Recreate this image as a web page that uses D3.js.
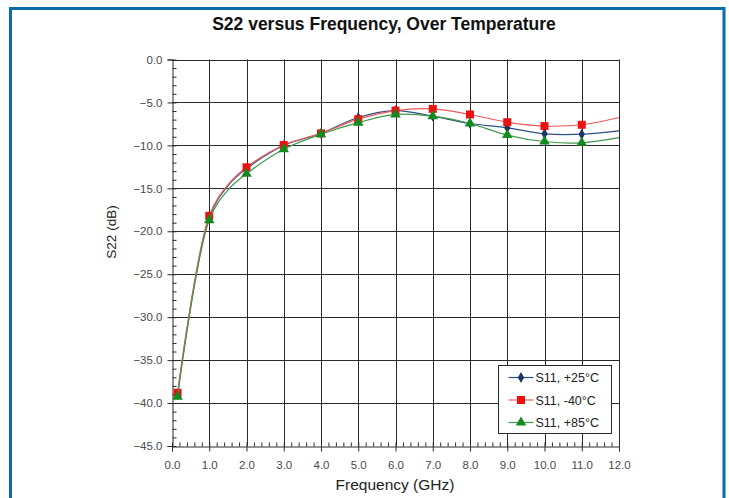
<!DOCTYPE html>
<html>
<head>
<meta charset="utf-8">
<script src="https://cdn.jsdelivr.net/npm/d3@7"></script>
<style>
	body { margin: 0; background: #fff; }
	svg text { font-family: "Liberation Sans", Arial, sans-serif; }
</style>
</head>
<body>
<svg id="chart" width="729" height="498"></svg>
<script>
// data
const freqs = [0.15, 1, 1.5, 2, 3, 4, 5, 6, 7, 8, 9, 10, 11, 12];
const markerFreqs = [0.15, 1, 2, 3, 4, 5, 6, 7, 8, 9, 10, 11];
const s25 = [-39.0, -18.4, -14.7, -12.7, -10.0, -8.6, -6.75, -5.95, -6.6, -7.45, -7.95, -8.65, -8.7, -8.3];
const sM40 = [-38.8, -18.2, -14.6, -12.55, -9.95, -8.6, -6.95, -5.95, -5.75, -6.4, -7.3, -7.75, -7.6, -6.75];
const s85 = [-39.25, -18.7, -15.2, -13.3, -10.45, -8.7, -7.35, -6.4, -6.6, -7.45, -8.8, -9.55, -9.7, -9.1];
const seriesNames = ["S11, +25°C", "S11, -40°C", "S11, +85°C"];
const xTicks = d3.range(0, 12.01, 1);
const yTicks = d3.range(-45, 0.01, 5);

(function(d3){
	const svg = d3.select("#chart");
	const x = d3.scaleLinear().domain([0, 12]).range([172, 619]);
	const y = d3.scaleLinear().domain([-45, 0]).range([446, 59.5]);

	// blue outer frame (open at the bottom)
	svg.append("path")
		.attr("d", "M10.5,498 V8.5 H724 V498")
		.attr("fill", "none")
		.attr("stroke", "#0a6cad")
		.attr("stroke-width", 3);

	svg.append("text")
		.attr("x", 384).attr("y", 30)
		.attr("text-anchor", "middle")
		.attr("font-size", "17.5px")
		.attr("font-weight", "bold")
		.attr("fill", "#111")
		.text("S22 versus Frequency, Over Temperature");

	// grid
	const grid = svg.append("g").attr("stroke", "#2a2a2a").attr("stroke-width", 1);
	grid.selectAll(".vx").data(xTicks.filter(d => d > 0)).enter().append("line")
		.attr("x1", d => Math.round(x(d)) + 0.5).attr("x2", d => Math.round(x(d)) + 0.5)
		.attr("y1", y(0)).attr("y2", y(-45));
	grid.selectAll(".hy").data(yTicks.filter(d => d > -45)).enter().append("line")
		.attr("y1", d => Math.round(y(d)) + 0.5).attr("y2", d => Math.round(y(d)) + 0.5)
		.attr("x1", x(0)).attr("x2", x(12));

	// axes
	const xAxis = svg.append("g")
		.attr("transform", `translate(0,${Math.round(y(-45)) + 0.5})`)
		.call(d3.axisBottom(x).tickValues(xTicks).tickFormat(d3.format(".1f")).tickSize(5).tickPadding(9));
	xAxis.append("g")
		.call(d3.axisTop(x).tickValues(d3.range(0, 12.01, 0.2)).tickFormat("").tickSize(4))
		.select(".domain").remove();

	const yAxis = svg.append("g")
		.attr("transform", `translate(${Math.round(x(0)) + 0.5},0)`)
		.call(d3.axisLeft(y).tickValues(yTicks).tickFormat(d3.format(".1f")).tickSize(5).tickPadding(5));
	yAxis.append("g")
		.call(d3.axisRight(y).tickValues(d3.range(-45, 0.01, 1)).tickFormat("").tickSize(4))
		.select(".domain").remove();

	svg.selectAll(".domain").attr("stroke", "#2a2a2a");
	svg.selectAll(".tick line").attr("stroke", "#2a2a2a");
	[xAxis, yAxis].forEach(a => a.selectAll("text")
		.attr("font-family", "Liberation Sans, Arial, sans-serif")
		.attr("font-size", "11.5px")
		.attr("fill", "#4a4a4a"));

	svg.append("text")
		.attr("x", 395).attr("y", 490)
		.attr("text-anchor", "middle")
		.attr("font-size", "15.5px")
		.attr("fill", "#222")
		.text("Frequency (GHz)");
	svg.append("text")
		.attr("transform", "translate(116,232) rotate(-90)")
		.attr("text-anchor", "middle")
		.attr("font-size", "13.5px")
		.attr("fill", "#222")
		.text("S22 (dB)");

	const series = [
		{name: seriesNames[0], vals: s25, line: "#2f4f86", fill: "#1b3566", shape: d3.symbolDiamond, size: 34},
		{name: seriesNames[1], vals: sM40, line: "#f25a5a", fill: "#ee1111", shape: d3.symbolSquare, size: 64},
		{name: seriesNames[2], vals: s85, line: "#3d9a4a", fill: "#128a1e", shape: d3.symbolTriangle, size: 48}
	];

	const line = d3.line()
		.x((d, i) => x(freqs[i]))
		.y(d => y(d))
		.curve(d3.curveCatmullRom.alpha(0.5));

	series.forEach(s => {
		const g = svg.append("g");
		g.append("path")
			.attr("d", line(s.vals))
			.attr("fill", "none")
			.attr("stroke", s.line)
			.attr("stroke-width", 1.2);
		const pts = freqs.map((f, i) => ({f: f, v: s.vals[i]})).filter(p => markerFreqs.includes(p.f));
		g.selectAll("path.m").data(pts).enter().append("path")
			.attr("class", "m")
			.attr("d", d3.symbol().type(s.shape).size(s.size))
			.attr("transform", d => `translate(${x(d.f)},${y(d.v)})`)
			.attr("fill", s.fill);
	});

	// legend
	const lg = svg.append("g").attr("transform", "translate(498.5,365.5)");
	lg.append("rect").attr("width", 113).attr("height", 68)
		.attr("fill", "#fff").attr("stroke", "#2a2a2a");
	series.forEach((s, i) => {
		const row = lg.append("g").attr("transform", `translate(0,${12 + i * 22.5})`);
		row.append("line").attr("x1", 10).attr("x2", 35).attr("stroke", s.line).attr("stroke-width", 1.2);
		row.append("path").attr("d", d3.symbol().type(s.shape).size(s.size))
			.attr("transform", "translate(22.5,0)").attr("fill", s.fill);
		row.append("text").attr("x", 37).attr("y", 4.5)
			.attr("font-size", "12.5px").attr("fill", "#222")
			.text(s.name);
	});
}(d3));
</script>
</body>
</html>
